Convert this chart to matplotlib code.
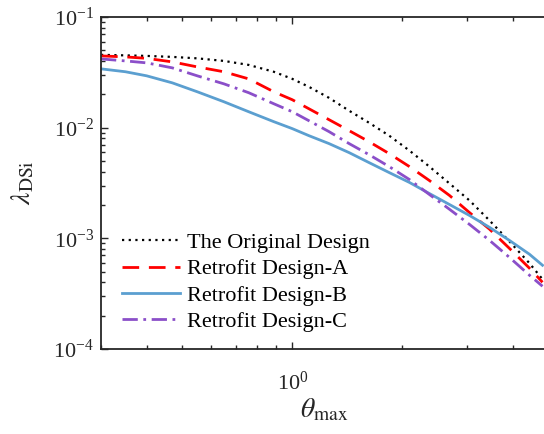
import matplotlib
matplotlib.use('Agg')
import matplotlib.pyplot as plt
from matplotlib.ticker import LogLocator, NullFormatter

plt.rcParams['font.family'] = ['Liberation Serif', 'DejaVu Serif']
plt.rcParams['mathtext.fontset'] = 'stix'

# theta_max sample points
theta = [0.30, 0.35, 0.40, 0.47, 0.55, 0.65, 0.76, 0.89, 1.00, 1.11, 1.26,
         1.43, 1.62, 1.84, 2.09, 2.37, 2.69, 3.05, 3.46, 3.92, 4.45, 4.83]

lam_original = [0.0455, 0.0450, 0.0445, 0.0436, 0.0423, 0.0401, 0.0369, 0.0320,
                0.0276, 0.0234, 0.0186, 0.01423, 0.01109, 0.00847, 0.00621,
                0.00445, 0.00313, 0.00220, 0.00145, 0.000940, 0.000595, 0.000427]
lam_design_a = [0.0445, 0.0436, 0.0423, 0.0393, 0.0354, 0.0320, 0.0276, 0.0211,
                0.01788, 0.01483, 0.01181, 0.00940, 0.00748, 0.00583, 0.00445,
                0.00333, 0.00244, 0.00171, 0.00121, 0.000813, 0.000537, 0.000401]
lam_design_b = [0.0340, 0.0320, 0.0294, 0.0254, 0.0211, 0.01715, 0.01393, 0.01133,
                0.00980, 0.00847, 0.00718, 0.00595, 0.00484, 0.00393, 0.00320,
                0.00254, 0.00202, 0.00161, 0.001257, 0.000959, 0.000718, 0.000571]
lam_design_c = [0.0418, 0.0401, 0.0385, 0.0347, 0.0294, 0.0249, 0.0207, 0.01645,
                0.01393, 0.01156, 0.00921, 0.00718, 0.00571, 0.00445, 0.00340,
                0.00249, 0.00183, 0.001337, 0.000959, 0.000674, 0.000464, 0.000369]

labels = ['The Original Design', 'Retrofit Design-A', 'Retrofit Design-B', 'Retrofit Design-C']

fig = plt.figure(figsize=(5.44, 4.34), dpi=100)
ax = fig.add_axes([101 / 544, 85 / 434, 447 / 544, 332 / 434])

ax.plot(theta, lam_original, color='black', linestyle=(0, (1, 2)), linewidth=1.6, label=labels[0])
ax.plot(theta, lam_design_a, color='#FF0000', linestyle=(0, (6, 3.5)), linewidth=2.0, label=labels[1])
ax.plot(theta, lam_design_b, color='#5B9FD0', linestyle='-', linewidth=2.0, label=labels[2])
ax.plot(theta, lam_design_c, color='#8B4FC9', linestyle=(0, (5.5, 2, 1, 2)), linewidth=2.0, label=labels[3])

ax.set_xscale('log')
ax.set_yscale('log')
ax.set_xlim(0.3, 5)
ax.set_ylim(1e-4, 1e-1)

ax.xaxis.set_minor_locator(LogLocator(base=10, subs=range(2, 10)))
ax.xaxis.set_minor_formatter(NullFormatter())
ax.yaxis.set_minor_locator(LogLocator(base=10, subs=range(2, 10)))
ax.yaxis.set_minor_formatter(NullFormatter())

ax.tick_params(which='both', direction='in', top=True, right=False,
               labelsize=16, colors='#262626', width=1.0)
ax.tick_params(which='major', length=5)
ax.tick_params(which='minor', length=3)
ax.tick_params(axis='x', which='major', pad=16)
ax.tick_params(axis='y', which='major', pad=5)
for spine in ax.spines.values():
    spine.set_linewidth(1.3)
    spine.set_color('#262626')

ax.set_xlabel(r'$\theta_{\rm max}$', fontsize=20, color='#262626', labelpad=2)
ax.set_ylabel(r'$\lambda_{\rm DSi}$', fontsize=20, color='#262626', labelpad=12)

ax.legend(loc='lower left', bbox_to_anchor=(0.002, -0.009), frameon=False,
          fontsize=16, handlelength=2.6, handletextpad=0.35, labelspacing=0.26,
          borderaxespad=0.5, borderpad=0.4)

fig.savefig('out.png', dpi=100)
